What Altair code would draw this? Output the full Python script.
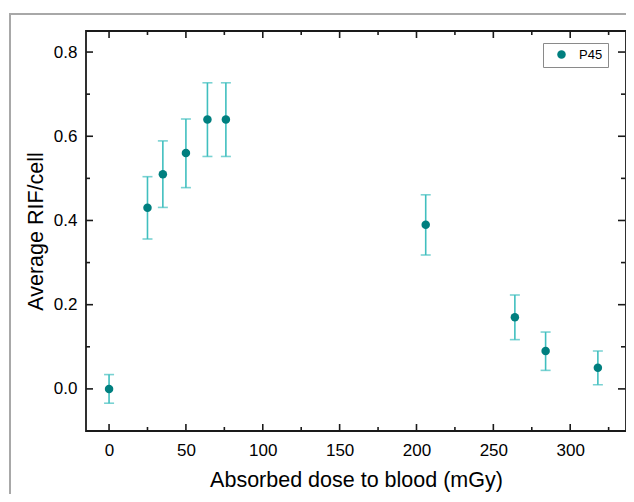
import altair as alt
import pandas as pd

# Data
dose = [0, 25, 35, 50, 64, 76, 206, 264, 284, 318]
rif = [0.00, 0.43, 0.51, 0.56, 0.64, 0.64, 0.39, 0.17, 0.09, 0.05]
rif_lo = [-0.034, 0.356, 0.431, 0.478, 0.552, 0.552, 0.318, 0.117, 0.044, 0.010]
rif_hi = [0.034, 0.504, 0.589, 0.641, 0.727, 0.727, 0.461, 0.223, 0.135, 0.090]
series = ["P45"] * len(dose)

x_major = [0, 50, 100, 150, 200, 250, 300]
x_minor = [25, 75, 125, 175, 225, 275, 325]
y_major = [0.0, 0.2, 0.4, 0.6, 0.8]
y_minor = [0.1, 0.3, 0.5, 0.7]

W, H = 540, 400
FONT = "Liberation Sans"
PT = "#007f7f"
EB = "#40bfbf"

df = pd.DataFrame({"dose": dose, "rif": rif, "lo": rif_lo, "hi": rif_hi, "series": series})

xs = alt.Scale(domain=[-15, 336.3], nice=False, zero=False)
ys = alt.Scale(domain=[-0.1, 0.85], nice=False, zero=False)

base = alt.Chart(df)

frame = alt.Chart(pd.DataFrame({"a": [0]})).mark_rect(
    fill=None, stroke="#a8a8a8", strokeWidth=2
).encode(x=alt.value(-76), x2=alt.value(700), y=alt.value(-17), y2=alt.value(600))

bars = base.mark_rule(color=EB, strokeWidth=1.6).encode(
    x=alt.X("dose:Q", scale=xs,
            axis=alt.Axis(values=x_major, title="Absorbed dose to blood (mGy)",
                          ticks=False, domain=False, grid=False, labelPadding=11,
                          titlePadding=11)),
    y=alt.Y("lo:Q", scale=ys,
            axis=alt.Axis(values=y_major, format=".1f", title="Average RIF/cell",
                          ticks=False, domain=False, grid=False, labelPadding=9,
                          titlePadding=6)),
    y2="hi:Q",
)
cap_hi = base.mark_tick(color=EB, orient="horizontal", size=10, thickness=1.6).encode(
    x="dose:Q", y="hi:Q")
cap_lo = base.mark_tick(color=EB, orient="horizontal", size=10, thickness=1.6).encode(
    x="dose:Q", y="lo:Q")

NB = "\u00a0"
pts = base.mark_circle(size=72, opacity=1).encode(
    x="dose:Q", y="rif:Q",
    color=alt.Color("series:N", scale=alt.Scale(domain=["P45"], range=[PT]),
                    legend=alt.Legend(title=None, orient="none", legendX=457, legendY=12,
                                      strokeColor="#8a8a8a", fillColor="white",
                                      padding=5, symbolType="circle", symbolSize=72,
                                      symbolOffset=7, labelOffset=11,
                                      labelExpr="datum.label + '" + NB * 3 + "'",
                                      labelFontSize=13, labelFont=FONT,
                                      labelColor="black")),
)

def ticks_x(vals, length):
    d = pd.DataFrame({"v": vals})
    bot = alt.Chart(d).mark_rule(color="#1a1a1a", strokeWidth=1.6).encode(
        x="v:Q", y=alt.value(H), y2=alt.value(H - length))
    top = alt.Chart(d).mark_rule(color="#1a1a1a", strokeWidth=1.6).encode(
        x="v:Q", y=alt.value(0), y2=alt.value(length))
    return [bot, top]

def ticks_y(vals, length):
    d = pd.DataFrame({"v": vals})
    left = alt.Chart(d).mark_rule(color="#1a1a1a", strokeWidth=1.6).encode(
        y="v:Q", x=alt.value(0), x2=alt.value(length))
    right = alt.Chart(d).mark_rule(color="#1a1a1a", strokeWidth=1.6).encode(
        y="v:Q", x=alt.value(W - 1), x2=alt.value(W - 1 - length))
    return [left, right]

layers = [frame, bars, cap_hi, cap_lo] + ticks_x(x_major, 7) + ticks_x(x_minor, 4) \
    + ticks_y(y_major, 7) + ticks_y(y_minor, 4) + [pts]

chart = alt.layer(*layers).properties(
    width=W, height=H,
    autosize=alt.AutoSizeParams(type="none"),
    padding={"left": 78, "top": 23, "right": 0, "bottom": 63},
).configure_view(
    stroke="#1a1a1a", strokeWidth=1.8
).configure_axis(
    labelFont=FONT, titleFont=FONT, labelFontSize=17, titleFontSize=21.5,
    labelColor="black", titleColor="black", titleFontWeight="normal"
)

chart.save("out.html", embed_options={"renderer": "svg", "actions": False})
